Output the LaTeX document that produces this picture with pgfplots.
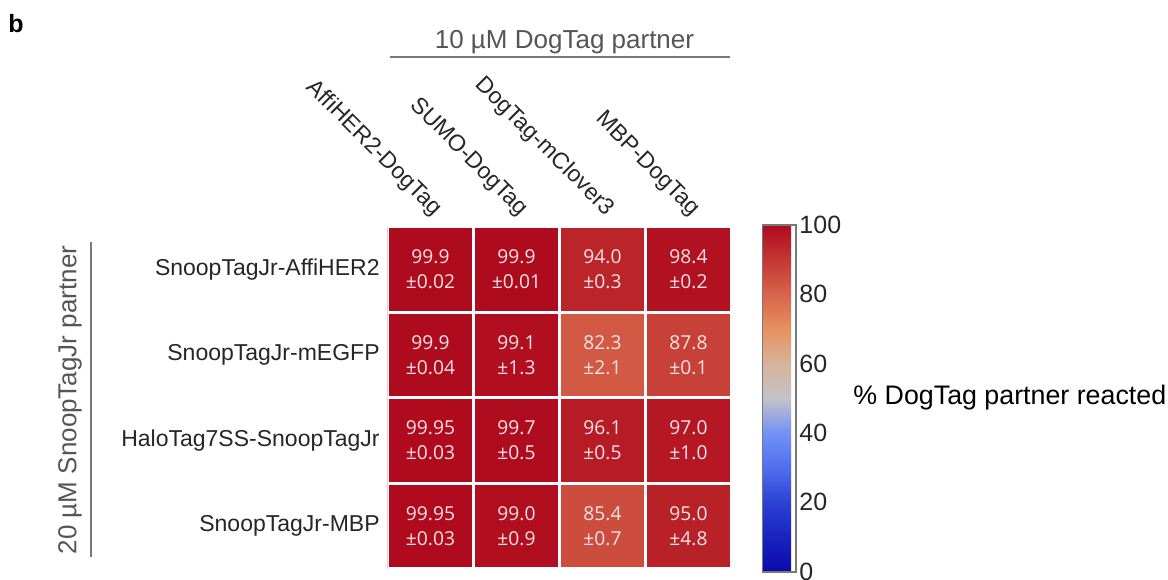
\documentclass[border=0pt]{standalone}
\usepackage{fontspec}
\setmainfont{Liberation Sans}
\newfontfamily\cellfont{Open Sans}
\usepackage{pgfplots}
\pgfplotsset{compat=1.18}
\definecolor{lblgray}{RGB}{85,85,85}
\definecolor{linegray}{RGB}{120,120,120}
\definecolor{celltext}{RGB}{245,228,228}
\pgfplotsset{
  colormap={cwmap}{
    rgb255(0cm)=(10,10,170)
    rgb255(1cm)=(25,35,190)
    rgb255(2cm)=(45,65,210)
    rgb255(3cm)=(80,110,238)
    rgb255(4cm)=(115,145,245)
    rgb255(5cm)=(195,195,200)
    rgb255(6cm)=(215,180,155)
    rgb255(7cm)=(230,145,95)
    rgb255(8cm)=(215,100,75)
    rgb255(9cm)=(195,55,50)
    rgb255(10cm)=(175,10,30)
  }
}
\begin{document}
\begin{tikzpicture}
\useasboundingbox (-193.75pt,-5.25pt) rectangle (390.25pt,284.25pt);
\begin{axis}[
  at={(0pt,0pt)}, anchor=south west,
  scale only axis, width=172pt, height=171pt,
  xmin=-0.5, xmax=3.5, ymin=-0.5, ymax=3.5,
  y dir=reverse,
  axis line style={draw=none},
  major tick length=0pt,
  xtick={0,1,2,3}, ytick={0,1,2,3},
  xticklabels={AffiHER2-DogTag,SUMO-DogTag,DogTag-mClover3,MBP-DogTag},
  yticklabels={SnoopTagJr-AffiHER2,SnoopTagJr-mEGFP,HaloTag7SS-SnoopTagJr,SnoopTagJr-MBP},
  xticklabel pos=upper,
  xticklabel style={font=\fontsize{11.5}{13}\selectfont, rotate=-45, anchor=south east, inner sep=0pt, text=black!85},
  xticklabel shift=3pt,
  yticklabel style={font=\fontsize{11.5}{13}\selectfont, anchor=east, inner sep=0pt, text=black!85},
  yticklabel shift=3.75pt,
  colormap name=cwmap,
  point meta min=0, point meta max=100,
  colorbar right,
  colorbar style={
    at={(parent axis.south east)}, anchor=south west,
    xshift=7pt, yshift=-1.6pt,
    scale only axis, width=16.75pt, height=173.35pt,
    ytick={0,20,40,60,80,100},
    major tick length=0pt,
    axis line style={draw=linegray, line width=0.8pt},
    yticklabel style={font=\fontsize{12.5}{15}\selectfont, text=black!85, anchor=west, inner sep=0pt, xshift=1.5pt, /pgf/number format/assume math mode=true},
  },
]
\addplot[matrix plot*, mesh/cols=4, point meta=explicit, shader=faceted, faceted color=white, line width=1.5pt] table[x=x, y=y, meta=v] {
x y v
0 0 99.9
1 0 99.9
2 0 94.0
3 0 98.4
0 1 99.9
1 1 99.1
2 1 82.3
3 1 87.8
0 2 99.95
1 2 99.7
2 2 96.1
3 2 97.0
0 3 99.95
1 3 99.0
2 3 85.4
3 3 95.0
};
\addplot[only marks, mark=none, point meta=explicit symbolic,
  nodes near coords, nodes near coords align=center,
  nodes near coords style={font=\cellfont\fontsize{9.6}{12.5}\selectfont, align=center, text=celltext, inner sep=0pt}]
  table[x=x, y=y, meta=t] {
x y t
0 0 {99.9\\±0.02}
1 0 {99.9\\±0.01}
2 0 {94.0\\±0.3}
3 0 {98.4\\±0.2}
0 1 {99.9\\±0.04}
1 1 {99.1\\±1.3}
2 1 {82.3\\±2.1}
3 1 {87.8\\±0.1}
0 2 {99.95\\±0.03}
1 2 {99.7\\±0.5}
2 2 {96.1\\±0.5}
3 2 {97.0\\±1.0}
0 3 {99.95\\±0.03}
1 3 {99.0\\±0.9}
2 3 {85.4\\±0.7}
3 3 {95.0\\±4.8}
};
\end{axis}
\node[font=\bfseries\fontsize{12.5}{14}\selectfont] at (-185.75pt,272.5pt) {b};
\node[font=\fontsize{13}{15}\selectfont, text=lblgray] at (88.5pt,263pt) {10 µM DogTag partner};
\draw[linegray, line width=1pt] (1.25pt,255.75pt) -- (171.25pt,255.75pt);
\node[font=\fontsize{13}{15}\selectfont, text=lblgray, rotate=90] at (-158.75pt,84.25pt) {20 µM SnoopTagJr partner};
\draw[linegray, line width=1pt] (-148.25pt,5.75pt) -- (-148.25pt,163.25pt);
\node[font=\fontsize{13.4}{15}\selectfont, anchor=west, inner sep=0pt] at (232.75pt,85.25pt) {\% DogTag partner reacted};
\end{tikzpicture}
\end{document}
